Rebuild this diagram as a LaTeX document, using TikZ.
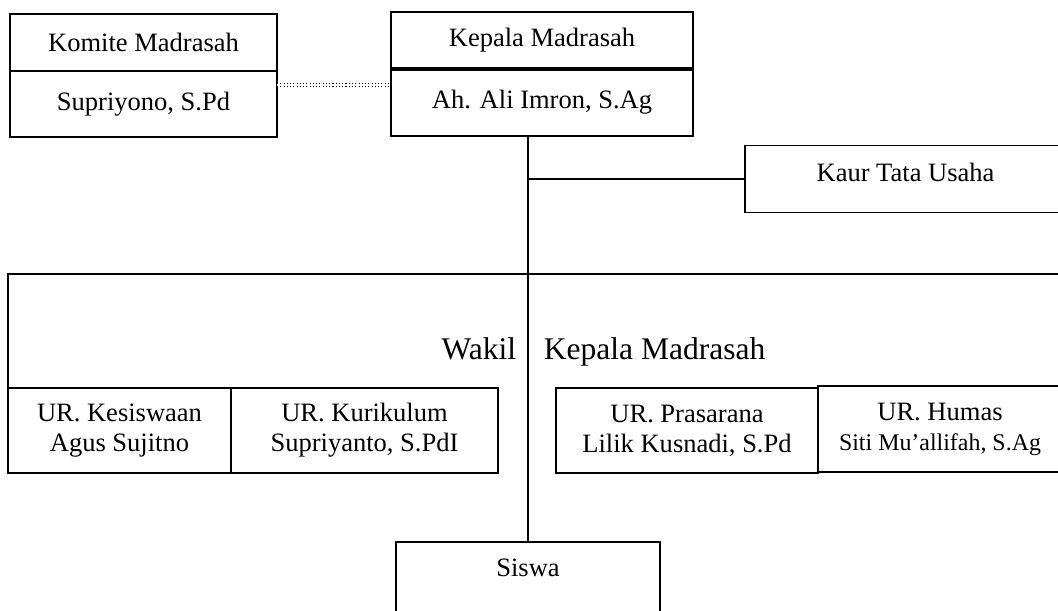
\documentclass[tikz,border=0pt]{standalone}
\usepackage{fontspec}
\setmainfont{Liberation Serif}
\usetikzlibrary{positioning}

\begin{document}
\begin{tikzpicture}[x=0.46pt, y=-0.46pt,
box/.style = {draw, rectangle, inner sep=0pt, outer sep=0pt, align=center,
  font=\fontsize{12.2}{13.8}\selectfont},
txt/.style = {inner sep=0pt, font=\fontsize{12.2}{13.8}\selectfont},
line width=0.8pt]
\useasboundingbox (0,0) rectangle (1058,610);
\clip (0,0) rectangle (1058,610);
% top row
    \node[box, minimum width=122.8pt, minimum height=26.2pt] (komitea) at (143.5,42.5) {Komite Madrasah};
    \node[box, minimum width=122.8pt, minimum height=30.4pt] (komiteb) at (143.5,104) {Supriyono, S.Pd};
    \node[box, minimum width=138.9pt, minimum height=26.2pt] (kepalaa) at (542,40.5) {Kepala Madrasah};
    \node[box, minimum width=138.9pt, minimum height=30.8pt] (kepalab) at (542,102.5) {Ah. Ali Imron, S.Ag};
    \draw[line width=1.5pt] (kepalaa.south west) -- (kepalaa.south east);
    \draw[line width=1.1pt] (komitea.south west) -- (komitea.south east);
    \node[box, minimum width=147.7pt, minimum height=30.8pt, text depth=6pt] (kaur) at (905.5,179) {Kaur Tata Usaha};
% wakil row
    \node[box, minimum width=102.6pt, minimum height=39.1pt] (kesiswaan) at (119.5,430.5) {UR. Kesiswaan\\Agus Sujitno};
    \node[box, minimum width=122.8pt, minimum height=39.1pt] (kurikulum) at (364.5,430.5) {UR. Kurikulum\\Supriyanto, S.PdI};
    \node[box, minimum width=120.5pt, minimum height=39.1pt] (prasarana) at (687,430.5) {UR. Prasarana\\Lilik Kusnadi, S.Pd};
    \node[box, minimum width=112.2pt, minimum height=39.6pt] (humas) at (940,429) {UR. Humas\\{\fontsize{11}{13.8}\selectfont Siti Mu’allifah, S.Ag}};
    \node[box, minimum width=121.4pt, minimum height=46pt] (siswa) at (528,592) {};
    \node[txt] (siswatxt) at (528,568) {Siswa};
    \node[txt, anchor=base east, font=\fontsize{14.5}{17}\selectfont] (wakil) at (517,359) {Wakil};
    \node[txt, anchor=base west, font=\fontsize{14.5}{17}\selectfont] (wakilkm) at (543,359) {Kepala Madrasah};
% lines
    \coordinate (dotl) at (277,85);
    \draw[densely dotted, line width=0.5pt, double, double distance=1.2pt] (dotl) -- (dotl -| kepalab.west);
    \draw[line width=0.7pt] (siswa.north |- kepalab.south) -- (siswa.north);
    \draw[line width=0.7pt] (kaur.west) -- (kaur.west -| siswa.north);
    \coordinate (wl) at (8,274);
    \coordinate (wr) at (1070,274);
    \draw (wr) -- (wl) -- (kesiswaan.north west);
\end{tikzpicture}
\end{document}
